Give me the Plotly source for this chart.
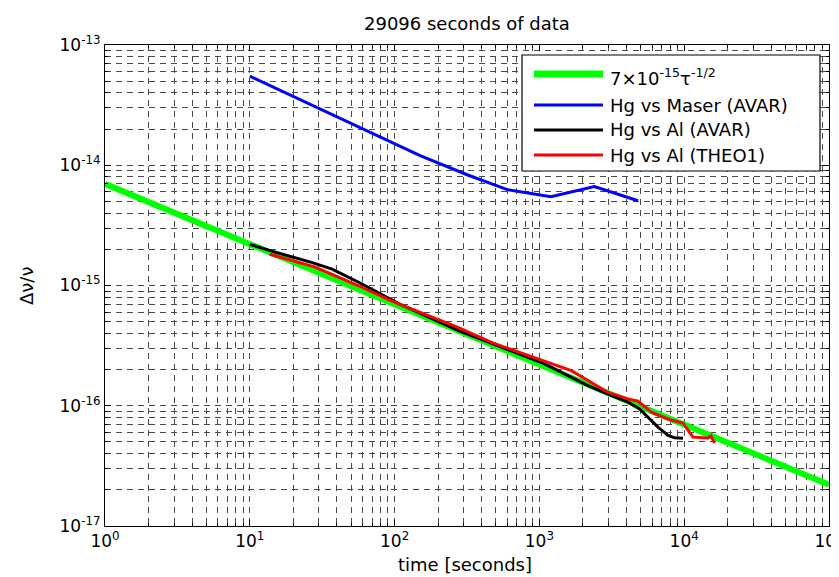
import plotly.graph_objects as go

# ---- data ----
green_t = [1, 10, 100, 1000, 10000, 100000]
green_y = [7.0e-15, 2.2e-15, 7.0e-16, 2.2e-16, 7.0e-17, 2.2e-17]

blue_t = [10, 20, 40, 80, 150, 320, 600, 1200, 2400, 4800]
blue_y = [5.5e-14, 3.73e-14, 2.51e-14, 1.69e-14, 1.2e-14, 8.3e-15, 6.27e-15, 5.48e-15, 6.64e-15, 5.07e-15]

black_t = [10, 14, 27, 37, 56, 110, 274, 518, 1026, 1577, 2166, 2977, 4094, 4921, 5623, 6590, 7730, 8590, 9820]
black_y = [2.2e-15, 1.94e-15, 1.55e-15, 1.37e-15, 1.07e-15, 6.95e-16, 4.24e-16, 3.18e-16, 2.3e-16, 1.78e-16,
           1.47e-16, 1.25e-16, 1.07e-16, 9.4e-17, 8.04e-17, 6.64e-17, 5.67e-17, 5.41e-17, 5.37e-17]

red_t = [13.7, 28, 56, 95, 161, 274, 466, 791, 1660, 2166, 2977, 4094, 4800, 5930, 7730, 9820, 11500, 14600, 15300, 16200]
red_y = [1.82e-15, 1.43e-15, 1.0e-15, 7.46e-16, 5.78e-16, 4.48e-16, 3.36e-16, 2.69e-16, 1.96e-16, 1.62e-16,
         1.29e-16, 1.14e-16, 1.09e-16, 8.83e-17, 7.76e-17, 7.16e-17, 5.48e-17, 5.4e-17, 5.6e-17, 4.89e-17]

x_tick_vals = [1, 10, 100, 1000, 10000, 100000]
x_tick_text = ["10<sup>0</sup>", "10<sup>1</sup>", "10<sup>2</sup>", "10<sup>3</sup>", "10<sup>4</sup>", "10<sup>5</sup>"]
y_tick_vals = [1e-17, 1e-16, 1e-15, 1e-14, 1e-13]
y_tick_text = ["10<sup>-17</sup>", "10<sup>-16</sup>", "10<sup>-15</sup>", "10<sup>-14</sup>", "10<sup>-13</sup>"]

legend_names = ["7\u00d710<sup>-15</sup>\u03c4<sup>-1/2</sup>", "Hg vs Maser (AVAR)", "Hg vs Al (AVAR)", "Hg vs Al (THEO1)"]
colors = ["#00ff00", "#0000ff", "#000000", "#ff0000"]
widths = [6, 3, 3, 3]

title_text = "29096 seconds of data"
x_title = "time [seconds]"
y_title = "\u0394\u03bd/\u03bd"

FONT = "DejaVu Sans, Arial, sans-serif"

fig = go.Figure()
series = [(green_t, green_y), (blue_t, blue_y), (black_t, black_y), (red_t, red_y)]
for (t, y), c, w, n in zip(series, colors, widths, legend_names):
    fig.add_trace(go.Scatter(x=t, y=y, mode="lines", line=dict(color=c, width=w), name=n, showlegend=False))

x_minor = [m * 10 ** e for e in range(0, 5) for m in range(2, 10)]
y_minor = [m * 10.0 ** e for e in range(-17, -13) for m in range(2, 10)]

grid_col = "#4a4a4a"
common = dict(
    showline=True, linecolor="black", linewidth=1, mirror="allticks",
    ticks="inside", ticklen=6, tickcolor="black",
    showgrid=True, gridcolor=grid_col, gridwidth=1, griddash="6px,5px",
    tickfont=dict(family=FONT, size=17, color="black"),
    zeroline=False,
)
fig.update_xaxes(type="log", range=[0, 5], tickmode="array", tickvals=x_tick_vals, ticktext=x_tick_text,
                 minor=dict(tickmode="array", tickvals=x_minor, ticks="inside", ticklen=3, tickcolor="black",
                            showgrid=True, gridcolor=grid_col, gridwidth=1, griddash="6px,5px"),
                 **common)
fig.update_yaxes(type="log", range=[-17, -13], tickmode="array", tickvals=y_tick_vals, ticktext=y_tick_text,
                 minor=dict(tickmode="array", tickvals=y_minor, ticks="inside", ticklen=3, tickcolor="black",
                            showgrid=True, gridcolor=grid_col, gridwidth=1, griddash="6px,5px"),
                 **common)

# plot area in px: x 97..821, y 37..518
L, R, T, B = 97, 821, 37, 518
W, H = R - L, B - T
def px(x):
    return (x - L) / W
def py(y):
    return (B - y) / H

shapes = []
shapes.append(dict(type="rect", xref="paper", yref="paper", x0=px(514), x1=px(812), y0=py(163), y1=py(47),
                   fillcolor="white", line=dict(color="black", width=1.2), layer="above"))
item_y = [66, 97, 122, 147]
annotations = []
for yy, c, w, n in zip(item_y, colors, widths, legend_names):
    shapes.append(dict(type="line", xref="paper", yref="paper", x0=px(526), x1=px(595), y0=py(yy), y1=py(yy),
                       line=dict(color=c, width=w + 1 if w > 3 else w), layer="above"))
    annotations.append(dict(xref="paper", yref="paper", x=px(600), y=py(yy + (3 if yy == 66 else 0)), text=n,
                            showarrow=False, xanchor="left", yanchor="middle",
                            font=dict(family=FONT, size=18, color="black")))

annotations.append(dict(xref="paper", yref="paper", x=px(459), y=py(15), text=title_text, showarrow=False,
                        xanchor="center", yanchor="middle", font=dict(family=FONT, size=18, color="black")))
annotations.append(dict(xref="paper", yref="paper", x=px(457), y=py(556), text=x_title, showarrow=False,
                        xanchor="center", yanchor="middle", font=dict(family=FONT, size=18, color="black")))
annotations.append(dict(xref="paper", yref="paper", x=px(18), y=py(278), text=y_title, showarrow=False,
                        textangle=-90, xanchor="center", yanchor="middle",
                        font=dict(family=FONT, size=18, color="black")))

fig.update_layout(
    width=839, height=577,
    margin=dict(l=L, r=839 - R, t=T, b=577 - B, autoexpand=False),
    paper_bgcolor="white", plot_bgcolor="white",
    showlegend=False,
    shapes=shapes, annotations=annotations,
    font=dict(family=FONT, size=17, color="black"),
)
fig.write_html("out.html")
